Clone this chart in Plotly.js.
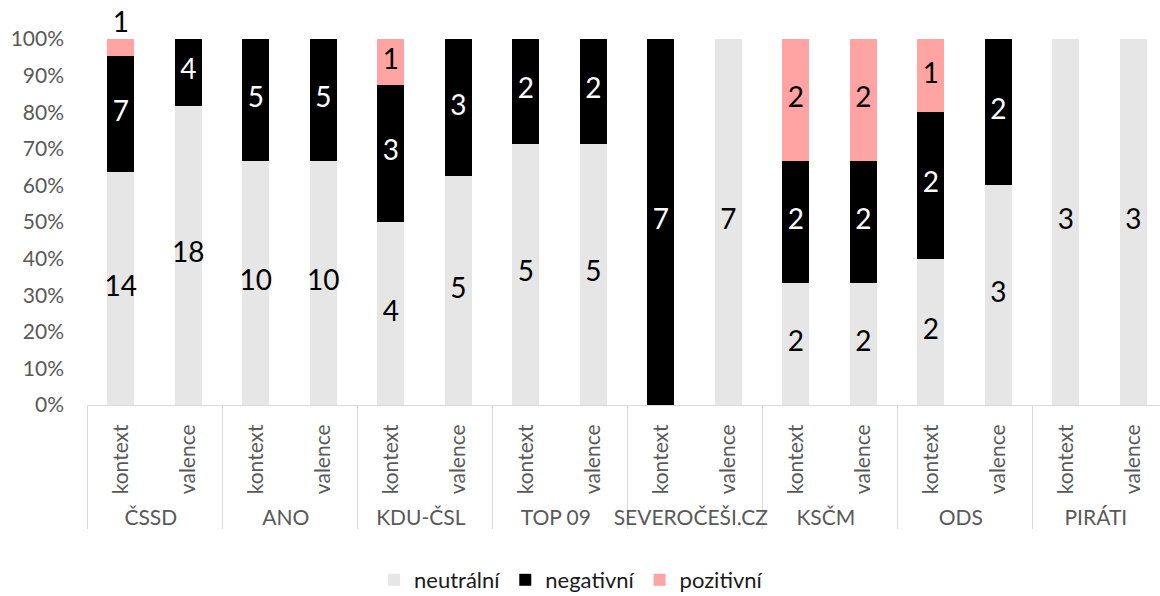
<!DOCTYPE html>
<html>
<head>
<meta charset="utf-8">
<script src="https://cdn.plot.ly/plotly-3.0.1.min.js"></script>
<style>
  html, body { margin: 0; padding: 0; background: #fff; overflow: hidden; }
  #chart { width: 1200px; height: 596px; }
</style>
</head>
<body>
<div id="chart"></div>
<script>
// ---- data ----
const parties = ["ČSSD", "ANO", "KDU-ČSL", "TOP 09", "SEVEROČEŠI.CZ", "KSČM", "ODS", "PIRÁTI"];
const subs = ["kontext", "valence"];
const seriesNames = ["neutrální", "negativní", "pozitivní"];
// order: for each party, kontext then valence
const neutralni = [14, 18, 10, 10, 4, 5, 5, 5, 0, 7, 2, 2, 2, 3, 3, 3];
const negativni = [7, 4, 5, 5, 3, 3, 2, 2, 7, 0, 2, 2, 2, 2, 0, 0];
const pozitivni = [1, 0, 0, 0, 1, 0, 0, 0, 0, 0, 2, 2, 1, 0, 0, 0];
const yTickVals = [0, 10, 20, 30, 40, 50, 60, 70, 80, 90, 100];
const yTickText = yTickVals.map(v => v + "%");

// ---- build ----
const outer = [], inner = [];
parties.forEach(p => subs.forEach(s => { outer.push(p); inner.push(s); }));
const xCats = [outer, inner];

const colors = ["#E7E6E6", "#000000", "#FFA3A3"];
const labelColors = ["#000000", "#FFFFFF", "#000000"];
const series = [neutralni, negativni, pozitivni];

const traces = series.map((vals, i) => ({
  type: "bar",
  name: seriesNames[i],
  x: xCats,
  y: vals,
  marker: { color: colors[i], line: { width: 0 } },
  hoverinfo: "skip"
}));

// data labels computed from the values
const lx0 = [], lx1 = [], ly = [], lt = [], lc = [], lp = [];
const totals = neutralni.map((v, j) => v + negativni[j] + pozitivni[j]);
for (let j = 0; j < totals.length; j++) {
  let cum = 0;
  series.forEach((vals, i) => {
    const v = vals[j];
    if (v > 0) {
      const share = v / totals[j] * 100;
      const small = share < 6; // too small: label sits above the bar
      lx0.push(outer[j]); lx1.push(inner[j]);
      ly.push(small ? cum + share : cum + share / 2);
      lt.push(String(v));
      lc.push(small ? "#000000" : labelColors[i]);
      lp.push(small ? "top center" : "middle center");
      cum += share;
    }
  });
}
traces.push({
  type: "scatter",
  mode: "text",
  x: [lx0, lx1],
  y: ly,
  text: lt,
  textposition: lp,
  textfont: { family: "Lato, 'Open Sans', sans-serif", size: 28, color: lc },
  showlegend: false,
  hoverinfo: "skip",
  cliponaxis: false
});

const layout = {
  width: 1200,
  height: 596,
  margin: { l: 87, r: 33, t: 39, b: 191 },
  paper_bgcolor: "#ffffff",
  plot_bgcolor: "#ffffff",
  font: { family: "Lato, 'Open Sans', sans-serif", color: "#595959" },
  barmode: "stack",
  barnorm: "percent",
  bargap: 0.6,
  showlegend: true,
  legend: {
    orientation: "h",
    traceorder: "normal",
    xref: "container", yref: "container",
    x: 571 / 1200, xanchor: "center",
    y: 1 - 580 / 596, yanchor: "middle",
    font: { size: 22, color: "#1a1a1a" },
    itemwidth: 30
  },
  xaxis: {
    type: "multicategory",
    range: [-0.5, 15.5],
    autorange: false,
    showline: true,
    linecolor: "#D9D9D9",
    linewidth: 1,
    showgrid: false,
    ticks: "",
    tickangle: -90,
    tickfont: { size: 21, color: "#595959" },
    ticklabelstandoff: 10,
    showdividers: true,
    dividercolor: "#D9D9D9",
    dividerwidth: 1
  },
  yaxis: {
    range: [0, 100],
    autorange: false,
    tickmode: "array",
    tickvals: yTickVals,
    ticktext: yTickText,
    showgrid: false,
    zeroline: false,
    showline: false,
    ticks: "",
    tickfont: { size: 21, color: "#595959" },
    ticklabelstandoff: 22
  }
};

Plotly.newPlot("chart", traces, layout, { displayModeBar: false, staticPlot: true });
</script>
</body>
</html>
